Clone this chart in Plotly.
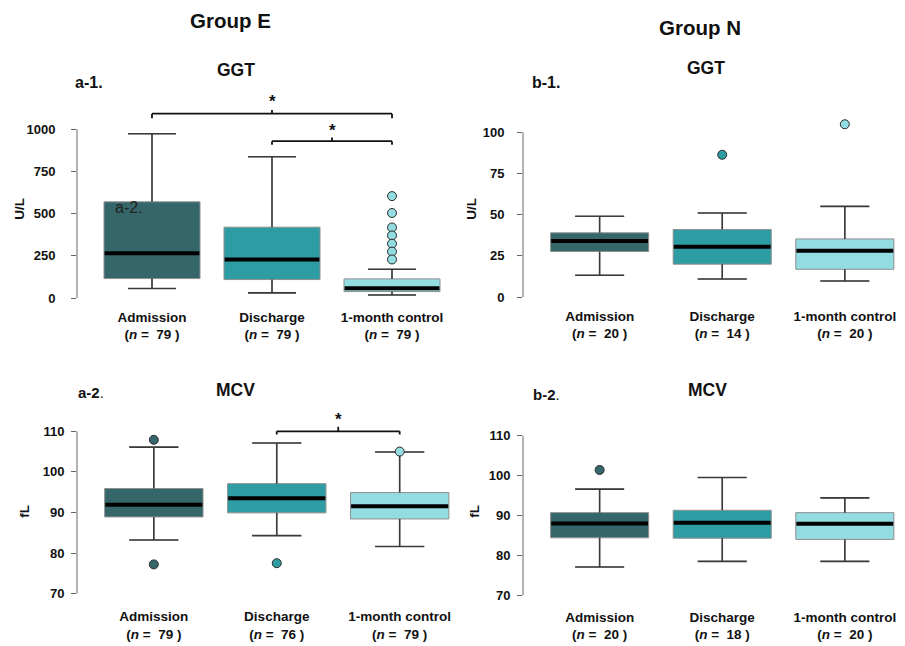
import plotly.graph_objects as go

W, H = 905, 646
FONT = "Liberation Sans, Arial, sans-serif"

# ---------------- data ----------------
stages = ["Admission", "Discharge", "1-month control"]
colors = ["#35676a", "#2e9ca3", "#93dce1"]

# Group E GGT (U/L)
e_ggt_low = [57, 31, 19]
e_ggt_q1 = [116, 110, 39]
e_ggt_med = [265, 229, 59]
e_ggt_q3 = [570, 420, 114]
e_ggt_high = [973, 837, 171]
e_ggt_out = [[], [], [604, 504, 418, 371, 322, 275, 229]]
e_ggt_n = [79, 79, 79]

# Group N GGT (U/L)
n_ggt_low = [13.3, 11, 9.8]
n_ggt_q1 = [27.7, 20, 16.9]
n_ggt_med = [34, 30.5, 28.1]
n_ggt_q3 = [39, 41, 35.3]
n_ggt_high = [49, 51, 55]
n_ggt_out = [[], [86.3], [104.8]]
n_ggt_n = [20, 14, 20]

# Group E MCV (fL)
e_mcv_low = [83.2, 84.3, 81.6]
e_mcv_q1 = [88.9, 89.9, 88.4]
e_mcv_med = [91.9, 93.5, 91.5]
e_mcv_q3 = [95.9, 97.1, 94.9]
e_mcv_high = [106.1, 107.1, 104.9]
e_mcv_out = [[107.9, 77.2], [77.5], [105]]
e_mcv_n = [79, 76, 79]

# Group N MCV (fL)
n_mcv_low = [77.1, 78.5, 78.5]
n_mcv_q1 = [84.4, 84.3, 84.0]
n_mcv_med = [88.0, 88.2, 87.9]
n_mcv_q3 = [90.7, 91.3, 90.7]
n_mcv_high = [96.6, 99.5, 94.4]
n_mcv_out = [[101.4], [], []]
n_mcv_n = [20, 18, 20]

ggt_e_ticks = [0, 250, 500, 750, 1000]
ggt_n_ticks = [0, 25, 50, 75, 100]
mcv_ticks = [70, 80, 90, 100, 110]

# significance brackets: (from stage, to stage, bar level, end level, tick top, star level)
e_ggt_brackets = [(0, 2, 1092, 1065, 1114, 1165), (1, 2, 929, 908, 951, 990)]
e_mcv_brackets = [(1, 2, 110, 109.2, 111.1, 112.8)]

# ---------------- layout helpers ----------------
def px_x(p):
    return p / W

def px_y(p):
    return 1 - p / H

XR = [-0.625, 2.45]

panels = [
    dict(k="1", xd=(77, 446), yd=(304.25, 90.9), yr=[-25, 1230], ticks=ggt_e_ticks,
         st=(e_ggt_low, e_ggt_q1, e_ggt_med, e_ggt_q3, e_ggt_high, e_ggt_out), n=e_ggt_n,
         ystand=13, xstand=5),
    dict(k="2", xd=(523, 900), yd=(304.0, 116.4), yr=[-3, 110], ticks=ggt_n_ticks,
         st=(n_ggt_low, n_ggt_q1, n_ggt_med, n_ggt_q3, n_ggt_high, n_ggt_out), n=n_ggt_n,
         ystand=10, xstand=4),
    dict(k="3", xd=(77, 455), yd=(601.4, 405.4), yr=[69, 117], ticks=mcv_ticks,
         st=(e_mcv_low, e_mcv_q1, e_mcv_med, e_mcv_q3, e_mcv_high, e_mcv_out), n=e_mcv_n,
         ystand=4, xstand=9),
    dict(k="4", xd=(523, 900), yd=(603.0, 430.3), yr=[69, 112], ticks=mcv_ticks,
         st=(n_mcv_low, n_mcv_q1, n_mcv_med, n_mcv_q3, n_mcv_high, n_mcv_out), n=n_mcv_n,
         ystand=4, xstand=8),
]

fig = go.Figure()
BOXW = 0.8
CAP = 0.2
shapes = []
annotations = []

for p in panels:
    k = p["k"]
    xa = "x" if k == "1" else "x" + k
    ya = "y" if k == "1" else "y" + k
    low, q1, med, q3, high, outs = p["st"]
    for i in range(3):
        fig.add_trace(go.Box(
            x=[i], q1=[q1[i]], median=[med[i]], q3=[q3[i]],
            lowerfence=[low[i]], upperfence=[high[i]],
            width=BOXW, whiskerwidth=0.5, fillcolor=colors[i],
            line=dict(color="#8f8f8f", width=1), boxpoints=False,
            xaxis=xa, yaxis=ya, showlegend=False, hoverinfo="skip"))
    # whiskers
    wx, wy = [], []
    for i in range(3):
        wx += [i, i, None, i - CAP, i + CAP, None, i, i, None, i - CAP, i + CAP, None]
        wy += [q3[i], high[i], None, high[i], high[i], None,
               q1[i], low[i], None, low[i], low[i], None]
    fig.add_trace(go.Scatter(x=wx, y=wy, mode="lines", line=dict(color="#3a3a3a", width=1.6),
                             xaxis=xa, yaxis=ya, showlegend=False, hoverinfo="skip"))
    # medians
    mx, my = [], []
    for i in range(3):
        mx += [i - BOXW / 2 + 0.005, i + BOXW / 2 - 0.005, None]
        my += [med[i], med[i], None]
    fig.add_trace(go.Scatter(x=mx, y=my, mode="lines", line=dict(color="#000000", width=4),
                             xaxis=xa, yaxis=ya, showlegend=False, hoverinfo="skip"))
    # outliers
    for i in range(3):
        if outs[i]:
            fig.add_trace(go.Scatter(
                x=[i] * len(outs[i]), y=outs[i], mode="markers",
                marker=dict(size=9, color=colors[i], line=dict(color="#2a2a2a", width=1)),
                xaxis=xa, yaxis=ya, showlegend=False, hoverinfo="skip", cliponaxis=False))

    xkey = "xaxis" if k == "1" else "xaxis" + k
    ykey = "yaxis" if k == "1" else "yaxis" + k
    ticktext = [f"{s}<br>(<i>n</i> =\u00a0 {n} )" for s, n in zip(stages, p["n"])]
    fig.update_layout(**{
        xkey: dict(domain=[px_x(p["xd"][0]), px_x(p["xd"][1])], range=XR,
                   anchor=ya, showline=False, showgrid=False, zeroline=False,
                   tickmode="array", tickvals=[0, 1, 2], ticktext=ticktext, ticks="",
                   ticklabelstandoff=p["xstand"],
                   tickfont=dict(family=FONT, size=13.5, color="#111", weight="bold")),
        ykey: dict(domain=[px_y(p["yd"][0]), px_y(p["yd"][1])], range=p["yr"],
                   anchor=xa, showline=False, showgrid=False, zeroline=False,
                   tickmode="array", tickvals=p["ticks"], ticks="outside", ticklen=5,
                   tickwidth=1, tickcolor="#666", ticklabelstandoff=p["ystand"],
                   tickfont=dict(family=FONT, size=13, color="#111", weight="bold")),
    })
    shapes.append(dict(type="line", xref=xa + " domain", yref=ya, x0=0, x1=0,
                       y0=p["ticks"][0], y1=p["ticks"][-1],
                       line=dict(color="#666", width=1)))

def add_brackets(brs, xa, ya):
    for a, b, bar, end, top, star in brs:
        mid = (a + b) / 2
        for x0, y0, x1, y1 in [(a, bar, b, bar), (a, bar, a, end), (b, bar, b, end),
                               (mid, bar, mid, top)]:
            shapes.append(dict(type="line", xref=xa, yref=ya, x0=x0, y0=y0, x1=x1, y1=y1,
                               line=dict(color="#111", width=1.8)))
        annotations.append(dict(text="<b>*</b>", xref=xa, yref=ya, x=mid, y=star,
                                showarrow=False, font=dict(family=FONT, size=17, color="#111"),
                                xanchor="center", yanchor="middle"))

add_brackets(e_ggt_brackets, "x", "y")
add_brackets(e_mcv_brackets, "x3", "y3")

def ann(text, x, y, size, bold=True, angle=0, color="#111"):
    annotations.append(dict(text=f"<b>{text}</b>" if bold else text, xref="paper", yref="paper",
                            x=px_x(x), y=px_y(y), showarrow=False, textangle=angle,
                            font=dict(family=FONT, size=size, color=color),
                            xanchor="center", yanchor="middle"))

ann("Group E", 230, 21, 20.5)
ann("Group N", 700, 28, 20.5)
ann("GGT", 236, 70, 17.5)
ann("GGT", 706, 68, 17.5)
ann("MCV", 235, 392, 17.5)
ann("MCV", 707, 392, 17.5)
ann("a-1.", 89, 83, 16)
ann("b-1.", 546, 83, 16)
ann("<b>a-2</b>.", 91, 395, 15, bold=False)
ann("<b>b-2</b>.", 546, 397, 15, bold=False)
ann("a-2.", 128.5, 209, 16, bold=False, color="#222")
ann("U/L", 20, 210, 13.5, angle=-90)
ann("U/L", 472, 210, 13.5, angle=-90)
ann("fL", 25, 515, 13.5, angle=-90)
ann("fL", 475, 515, 13.5, angle=-90)

fig.update_layout(width=W, height=H, margin=dict(l=0, r=0, t=0, b=0),
                  paper_bgcolor="white", plot_bgcolor="white",
                  shapes=shapes, annotations=annotations, showlegend=False,
                  font=dict(family=FONT))

fig.write_html("out.html", config={"displayModeBar": False, "staticPlot": True},
               post_script="document.body.style.margin='0';")
